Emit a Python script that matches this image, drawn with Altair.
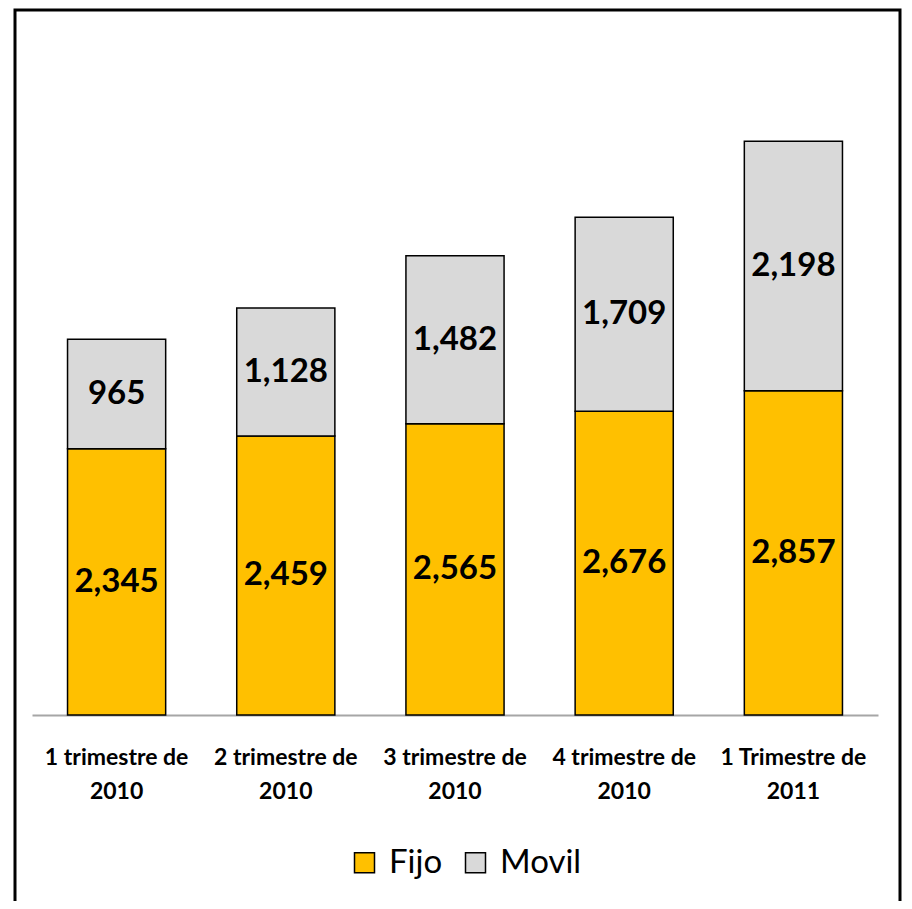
import altair as alt
import pandas as pd

quarters = ["1 trimestre de|2010", "2 trimestre de|2010", "3 trimestre de|2010",
            "4 trimestre de|2010", "1 Trimestre de|2011"]
fijo = [2345, 2459, 2565, 2676, 2857]
movil = [965, 1128, 1482, 1709, 2198]
series = ["Fijo", "Movil"]
colors = ["#FFC000", "#D9D9D9"]

rows = []
for q, f, m in zip(quarters, fijo, movil):
    rows.append({"quarter": q, "serie": "Fijo", "value": f, "ord": 0})
    rows.append({"quarter": q, "serie": "Movil", "value": m, "ord": 1})
df = pd.DataFrame(rows)

FONT = "Lato"
W, H = 846, 681

x = alt.X("quarter:N", sort=quarters,
          scale=alt.Scale(paddingInner=0.42, paddingOuter=0.21),
          axis=alt.Axis(title=None, labelExpr="split(datum.value, '|')",
                        labelAngle=0, labelFont=FONT, labelFontSize=23,
                        labelFontWeight="bold", labelColor="black",
                        labelLineHeight=34, labelPadding=31, ticks=False,
                        domainColor="#A6A6A6", domainWidth=2))
y_scale = alt.Scale(domain=[0, 6000])

base = alt.Chart(df).transform_stack(
    stack="value", groupby=["quarter"], as_=["v0", "v1"],
    sort=[alt.SortField("ord", order="ascending")]
).transform_calculate(mid="(datum.v0 + datum.v1) / 2")

bars = base.mark_bar(stroke="black", strokeWidth=1.5).encode(
    x=x,
    y=alt.Y("v0:Q", scale=y_scale, axis=None),
    y2="v1:Q",
    color=alt.Color("serie:N", sort=series,
                    scale=alt.Scale(domain=series, range=colors),
                    legend=alt.Legend(title=None, orient="none", legendX=316, legendY=812,
                                      direction="horizontal", symbolType="square",
                                      symbolSize=400, symbolStrokeColor="black",
                                      symbolStrokeWidth=1.5, labelFont=FONT,
                                      labelFontSize=33, labelColor="black",
                                      columnPadding=16, labelOffset=8)),
)

labels = base.mark_text(font=FONT, fontSize=33, fontWeight="bold", color="black",
                        baseline="middle").encode(
    x=alt.X("quarter:N", sort=quarters),
    y=alt.Y("mid:Q", scale=y_scale),
    text=alt.Text("value:Q", format=","),
)

border = alt.Chart(pd.DataFrame({"a": [0]})).mark_rect(
    fill=None, stroke="black", strokeWidth=3, clip=False).encode(
    x=alt.value(-17), x2=alt.value(868), y=alt.value(-24), y2=alt.value(900))

chart = alt.layer(bars, labels, border).properties(
    width=W, height=H,
    autosize="none",
    background="white",
    padding={"left": 24, "top": 26, "right": 26, "bottom": 186},
).configure_view(strokeWidth=0, stroke=None)

chart.save("out.html", embed_options={"renderer": "svg", "actions": False})
